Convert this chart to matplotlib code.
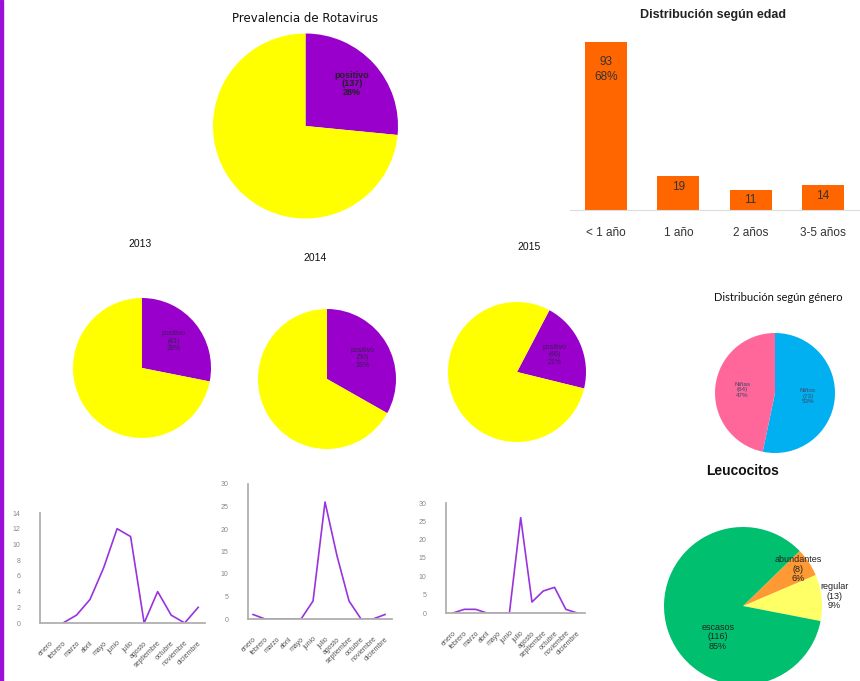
import numpy as np
import matplotlib
matplotlib.use("Agg")
import matplotlib.pyplot as plt
from matplotlib.patches import Rectangle

plt.rcParams["font.family"] = ["Liberation Sans", "DejaVu Sans"]

W, H = 860, 681

# datos
rota_counts = [137, 379]            # positivo, negativo
rota_pct = "28%"
year_names = ["2013", "2014", "2015"]
year_pos = [41, 50, 46]
year_neg = [105, 101, 173]
year_pct = ["28%", "33%", "21%"]
year_start = [90, 90, 62]

edad_cat = ["< 1 año", "1 año", "2 años", "3-5 años"]
edad_val = [93, 19, 11, 14]
edad_lab = ["93\n68%", "19", "11", "14"]

genero_cat = ["Niños", "Niñas"]
genero_val = [73, 64]
genero_pct = ["53%", "47%"]

leuco_cat = ["regular", "abundantes", "escasos"]
leuco_val = [13, 8, 116]
leuco_pct = ["9%", "6%", "85%"]

meses = ["enero", "febrero", "marzo", "abril", "mayo", "junio", "julio",
         "agosto", "septiembre", "octubre", "noviembre", "diciembre"]
casos_2013 = [np.nan, 0, 1, 3, 7, 12, 11, 0, 4, 1, 0, 2]
casos_2014 = [1, 0, 0, 0, 0, 4, 26, 14, 4, 0, 0, 1]
casos_2015 = [0, 1, 1, 0, 0, 0, 26, 3, 6, 7, 1, 0]

PURPLE = "#9900cc"
YELLOW = "#ffff00"

fig = plt.figure(figsize=(W / 100, H / 100), dpi=100)
fig.add_artist(Rectangle((0, 0), 2.5 / W, 1, transform=fig.transFigure,
                         color="#9b10d8", zorder=10))


def box(l, t, w, h):
    return fig.add_axes([l / W, 1 - (t + h) / H, w / W, h / H])


def pie_at(cx, cy, rx, ry, vals, colors, start, cw=True):
    ax = box(cx - rx, cy - ry, 2 * rx, 2 * ry)
    wedges, _ = ax.pie(vals, colors=colors, startangle=start,
                       counterclock=not cw, radius=1,
                       wedgeprops=dict(linewidth=0))
    ax.set_xlim(-1, 1)
    ax.set_ylim(-1, 1)
    ax.set_aspect("auto")
    ax.axis("off")
    return ax, wedges


def mid(w, r):
    a = np.deg2rad((w.theta1 + w.theta2) / 2)
    return r * np.cos(a), r * np.sin(a)


# Prevalencia
ax, wd = pie_at(305.5, 126, 92.5, 92.5, rota_counts, [PURPLE, YELLOW], 90)
x, y = mid(wd[0], 0.68)
ax.text(x, y, f"positivo\n({rota_counts[0]})\n{rota_pct}", ha="center",
        va="center", fontsize=6.5, fontweight="bold", linespacing=0.95,
        color="#222")
fig.text(305 / W, 1 - 18 / H, "Prevalencia de Rotavirus", ha="center",
         va="center", fontsize=8.5, family="DejaVu Sans", color="#111")

# pies por año
centers = [(142, 368), (327, 379), (517, 372)]
lab_y = [244, 258, 247]
lab_x = [140, 315, 529]
for i in range(3):
    cx, cy = centers[i]
    ax, wd = pie_at(cx, cy, 69, 70, [year_pos[i], year_neg[i]],
                    [PURPLE, YELLOW], year_start[i])
    x, y = mid(wd[0], 0.6)
    ax.text(x, y, f"positivo\n({year_pos[i]})\n{year_pct[i]}", ha="center",
            va="center", fontsize=5, linespacing=1.1, color="#3a1f55")
    fig.text(lab_x[i] / W, 1 - lab_y[i] / H, year_names[i], ha="center",
             va="center", fontsize=7.5, color="#111")

# Distribución según edad
ax = box(570, 20, 289, 190)
xs = np.arange(len(edad_cat))
bars = ax.bar(xs, edad_val, width=0.58, color="#ff6600")
ax.set_xlim(-0.5, 3.5)
ax.set_ylim(0, 93 * 190 / 168)
pads = [-10, -4, -3, -4]
for b, t, p in zip(bars, edad_lab, pads):
    ax.annotate(t, (b.get_x() + b.get_width() / 2, b.get_height()),
                xytext=(0, p), textcoords="offset points", ha="center",
                va="top", fontsize=8.5, color="#333", linespacing=1.35)
for s in ["top", "right", "left"]:
    ax.spines[s].set_visible(False)
ax.spines["bottom"].set_color("#dddddd")
ax.set_yticks([])
ax.set_xticks(xs)
ax.set_xticklabels(edad_cat, fontsize=8.5, color="#333")
ax.tick_params(axis="x", length=0, pad=12)
fig.text(713 / W, 1 - 15 / H, "Distribución según edad", ha="center",
         va="center", fontsize=9, fontweight="bold", color="#222")

# Distribución según género
ax, wd = pie_at(775, 393, 60, 60, genero_val, ["#00b0f0", "#ff6699"], 90)
for w, c, v, p in zip(wd, genero_cat, genero_val, genero_pct):
    x, y = mid(w, 0.55)
    ax.text(x, y, f"{c}\n({v})\n{p}", ha="center", va="center",
            fontsize=4.5, linespacing=1.1, color="#3a4a6a")
fig.text(778 / W, 1 - 297 / H, "Distribución según género", ha="center",
         va="center", fontsize=8, family="Lato", color="#111")

# Leucocitos
ax, wd = pie_at(743, 606, 79, 79, leuco_val, ["#ffff66", "#ff9933", "#00bf6f"],
                -11, cw=False)
rads = [1.16, 0.84, 0.5]
for w, c, v, p, r in zip(wd, leuco_cat, leuco_val, leuco_pct, rads):
    x, y = mid(w, r)
    if c == "escasos":
        x, y = -0.32, -0.39
    ax.text(x, y, f"{c}\n({v})\n{p}", ha="center", va="center",
            fontsize=6.5, linespacing=1.1, color="#222")
fig.text(743 / W, 1 - 471 / H, "Leucocitos", ha="center", va="center",
         fontsize=10, fontweight="bold", color="#111")

# series mensuales
LINE = "#9933dd"
specs = [
    (casos_2013, (40, 513, 165, 110), (-0.7, 11.5), 14, 2),
    (casos_2014, (248, 484, 144, 135), (-0.42, 11.58), 30, 5),
    (casos_2015, (446, 503, 139, 110), (-0.62, 11.7), 30, 5),
]
for vals, (l, t, w, h), xl, ymax, step in specs:
    ax = box(l, t, w, h)
    ax.plot(np.arange(12), vals, color=LINE, lw=1.2, zorder=1)
    ax.set_xlim(*xl)
    ax.set_ylim(0, ymax)
    ax.set_yticks(np.arange(0, ymax + 1, step))
    ax.set_xticks(np.arange(12))
    ax.set_xticklabels(meses, rotation=45, ha="right", rotation_mode="anchor",
                       fontsize=5, color="#555")
    ax.tick_params(axis="y", labelsize=5, labelcolor="#888", length=0,
                   pad=14)
    ax.tick_params(axis="x", length=0, pad=12)
    for s in ["top", "right"]:
        ax.spines[s].set_visible(False)
    for s in ["left", "bottom"]:
        ax.spines[s].set_color("#b0b0b0")
        ax.spines[s].set_linewidth(1.3)
    ax.patch.set_alpha(0)

fig.savefig("out.png", dpi=100)
